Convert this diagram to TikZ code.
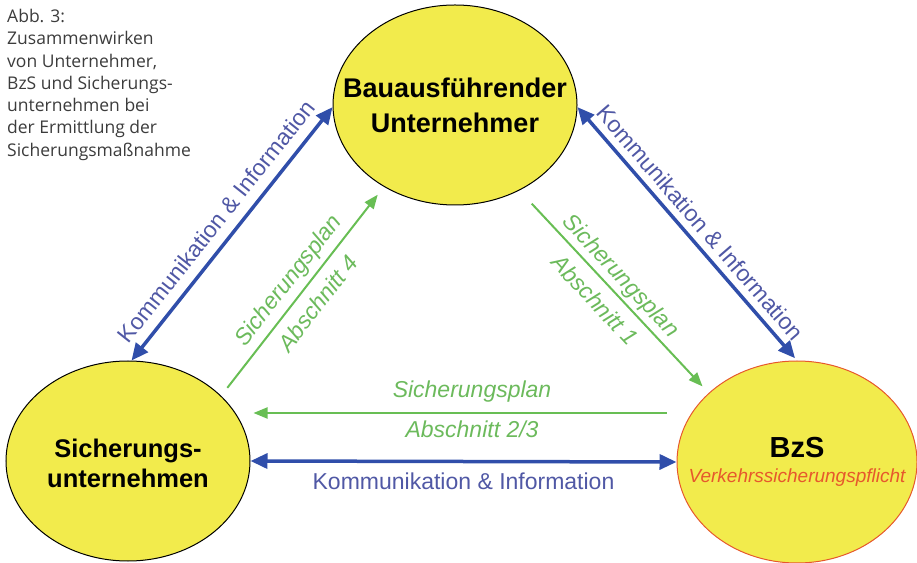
\documentclass[tikz,border=0pt]{standalone}
\usepackage{fontspec}
\setmainfont{Liberation Sans}
\newfontfamily\capfont{Open Sans}
\usepackage{xcolor}
\usetikzlibrary{positioning,arrows.meta,shapes.geometric}
\definecolor{partyfill}{RGB}{242,235,76}
\definecolor{komblue}{RGB}{48,78,170}
\definecolor{komtext}{RGB}{80,88,165}
\definecolor{plangreen}{RGB}{104,190,84}
\definecolor{plantext}{RGB}{108,186,92}
\definecolor{bzsred}{RGB}{230,88,44}
\definecolor{captext}{RGB}{60,60,60}

\begin{document}
\begin{tikzpicture}[x=1pt, y=1pt,
  partyN/.style={draw, ellipse, line width=1pt, fill=partyfill, inner sep=0pt,
                 minimum width=244pt, minimum height=200pt},
  partyT/.style={align=center, inner sep=0pt, font=\bfseries},
  kom/.style={line width=3.5pt, komblue,
              {Triangle[length=17pt,width=15pt]}-{Triangle[length=17pt,width=15pt]}},
  plan/.style={line width=2pt, plangreen, -{Triangle[length=14pt,width=11pt]}},
  komL/.style={font=\fontsize{23}{27}\selectfont, text=komtext, inner sep=2pt},
  planL/.style={font=\fontsize{23}{27}\selectfont\itshape, text=plantext, inner sep=2pt}
]
\useasboundingbox (0,0) rectangle (917,562);
% Caption
\node[anchor=north west, align=left, inner sep=0pt, text=captext,
      font=\capfont\fontsize{17.5}{22.3}\selectfont] (cap) at (7,553)
  {Abb. 3:\\Zusammenwirken\\von Unternehmer,\\BzS und Sicherungs-\\unternehmen bei\\der Ermittlung der\\Sicherungsma\ss nahme};
% Parties
\node[partyN, label={[partyT, font=\fontsize{27}{35}\selectfont\bfseries]center:Bauausführender\\Unternehmer}]
  (bau) at (455,457) {};
\node[partyN, label={[partyT, font=\fontsize{25.5}{30}\selectfont\bfseries, yshift=-2pt]center:Sicherungs-\\unternehmen}]
  (sich) at (128,101) {};
\node[partyN, draw=bzsred, minimum width=240pt, minimum height=202pt,
      label={[partyT, font=\fontsize{29}{25}\selectfont\bfseries]center:BzS\\{\fontsize{19}{23}\selectfont\mdseries\itshape\color{bzsred}Verkehrssicherungspflicht}}]
  (bzs) at (797,100) {};
% Kommunikation & Information
\draw[kom] (sich.88) -- (bau.181)
  node[komL, midway, sloped, above=8pt] {Kommunikation \& Information};
\draw[kom, shorten >=3pt] (bau.-1) -- (bzs.north)
  node[komL, midway, sloped, above=5pt] {Kommunikation \& Information};
\draw[kom] (sich.east) -- (bzs.west)
  node[komL, midway, below=8pt] {Kommunikation \& Information};
% Sicherungsplan
\draw[plan, shorten <=10pt, shorten >=10pt] (sich.35) -- (bau.229)
  node[planL, midway, sloped, above=3pt] {Sicherungsplan}
  node[planL, midway, sloped, below=8pt] {Abschnitt 4};
\draw[plan, shorten <=18pt, shorten >=9pt] (bau.-53) -- (bzs.142)
  node[planL, pos=.475, sloped, above=1pt] {Sicherungsplan}
  node[planL, pos=.475, sloped, below=8pt] {Abschnitt 1};
\draw[plan, shorten <=10pt, shorten >=3pt] ([yshift=49pt]bzs.west) -- ([yshift=48pt]sich.east)
  node[planL, pos=.48, above=8pt] {Sicherungsplan}
  node[planL, pos=.48, below=5pt] {Abschnitt 2/3};
\end{tikzpicture}
\end{document}
